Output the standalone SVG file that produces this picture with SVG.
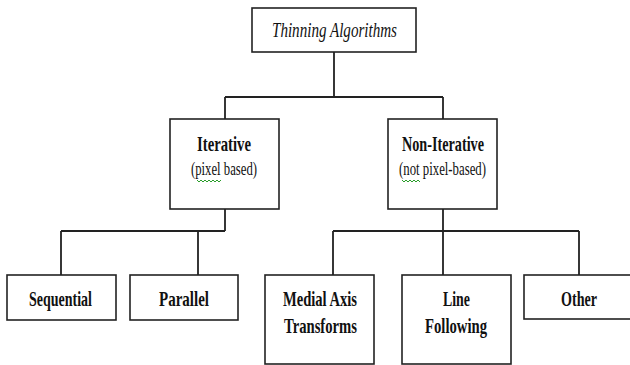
<svg xmlns="http://www.w3.org/2000/svg" width="630" height="365" viewBox="0 0 630 365">
<style>
.box{fill:#fff;stroke:#222;stroke-width:1.6}
.conn{fill:none;stroke:#222;stroke-width:1.8}
.b{font-family:"Liberation Serif","Times New Roman",serif;font-weight:bold;font-size:22px;fill:#111}
.r{font-family:"Liberation Serif","Times New Roman",serif;font-size:19px;fill:#111}
.i{font-family:"Liberation Serif","Times New Roman",serif;font-style:italic;font-size:22px;fill:#111}
.sq{fill:none;stroke:#2a9d2a;stroke-width:1}
</style>
<rect width="630" height="365" fill="#fff"/>
<g id="connectors">
<path class="conn" d="M334 52V97M225 97H443M225 97V119M443 97V119"/>
<path class="conn" d="M225 209V231M61 231H225M61 231V275M198 231V275"/>
<path class="conn" d="M443 209V275M333 231H579M333 231V275M579 231V275"/>
</g>
<g id="root">
<rect class="box" x="252" y="8" width="164" height="44"/>
<text class="i" x="272" y="37" textLength="125" lengthAdjust="spacingAndGlyphs">Thinning Algorithms</text>
</g>
<g id="iterative">
<rect class="box" x="170" y="119" width="109" height="90"/>
<text class="b" x="197" y="151" textLength="54" lengthAdjust="spacingAndGlyphs">Iterative</text>
<text class="r" x="191" y="175" textLength="66" lengthAdjust="spacingAndGlyphs">(pixel based)</text>
<path class="sq" d="M197 180l2 2l2-2l2 2l2-2l2 2l2-2l2 2l2-2l2 2l2-2l2 2l2-2"/>
</g>
<g id="noniterative">
<rect class="box" x="388" y="119" width="109" height="90"/>
<text class="b" x="402" y="151" textLength="82" lengthAdjust="spacingAndGlyphs">Non-Iterative</text>
<text class="r" x="399" y="175" textLength="87" lengthAdjust="spacingAndGlyphs">(not pixel-based)</text>
<path class="sq" d="M402 180l2 2l2-2l2 2l2-2l2 2l2-2l2 2l2-2l2 2"/>
</g>
<g id="sequential">
<rect class="box" x="7" y="275" width="109" height="45"/>
<text class="b" x="29" y="306" textLength="63" lengthAdjust="spacingAndGlyphs">Sequential</text>
</g>
<g id="parallel">
<rect class="box" x="130" y="275" width="108" height="45"/>
<text class="b" x="159" y="306" textLength="50" lengthAdjust="spacingAndGlyphs">Parallel</text>
</g>
<g id="medial">
<rect class="box" x="265" y="275" width="109" height="89"/>
<text class="b" x="283" y="306" textLength="74" lengthAdjust="spacingAndGlyphs">Medial Axis</text>
<text class="b" x="284" y="333" textLength="73" lengthAdjust="spacingAndGlyphs">Transforms</text>
</g>
<g id="linefollowing">
<rect class="box" x="402" y="275" width="109" height="89"/>
<text class="b" x="443" y="306" textLength="27" lengthAdjust="spacingAndGlyphs">Line</text>
<text class="b" x="425" y="333" textLength="62" lengthAdjust="spacingAndGlyphs">Following</text>
</g>
<g id="other">
<rect class="box" x="524" y="275" width="110" height="44"/>
<text class="b" x="561" y="306" textLength="36" lengthAdjust="spacingAndGlyphs">Other</text>
</g>
</svg>
